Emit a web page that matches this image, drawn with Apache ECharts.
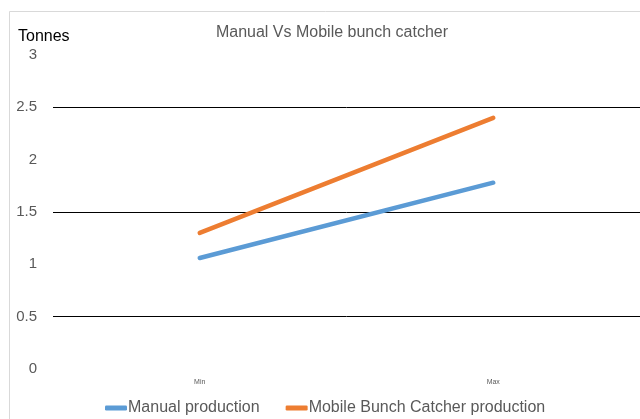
<!DOCTYPE html>
<html><head><meta charset="utf-8">
<script src="https://cdn.jsdelivr.net/npm/echarts@6/dist/echarts.min.js"></script>
<style>html,body{margin:0;padding:0;background:#fff}#c{width:640px;height:419px}</style>
</head><body><div id="c"></div>
<script>
var categories = ['Min', 'Max'];
var manual = [1.06, 1.78];
var mobile = [1.30, 2.40];
var seriesNames = ['Manual production', 'Mobile Bunch Catcher production'];

var chart = echarts.init(document.getElementById('c'), null, {renderer: 'canvas'});
var font = 'Liberation Sans';
chart.setOption({
  animation: false,
  backgroundColor: '#fff',
  title: {
    text: 'Manual Vs Mobile bunch catcher',
    left: 327, textAlign: 'center', top: 20,
    textStyle: {fontFamily: font, fontSize: 16, fontWeight: 'normal', color: '#595959'}
  },
  graphic: [
    {type: 'rect', shape: {x: 9.5, y: 11.5, width: 640, height: 420}, style: {fill: 'none', stroke: '#d9d9d9', lineWidth: 1}, silent: true},
    {type: 'text', left: 18, top: 29, style: {text: 'Tonnes', fontFamily: font, fontSize: 16, fill: '#000'}}
  ],
  legend: {
    bottom: -2, left: 100,
    itemWidth: 22, itemHeight: 5, itemGap: 26,
    icon: 'roundRect',
    textStyle: {fontFamily: font, fontSize: 16, color: '#595959', padding: [0, 0, 0, -4]},
    data: seriesNames
  },
  grid: {left: 53, right: 0, top: 55, bottom: 50, containLabel: false},
  xAxis: {
    type: 'category', data: categories, boundaryGap: true,
    axisLine: {show: false}, axisTick: {show: false},
    axisLabel: {fontFamily: font, fontSize: 7, color: '#595959', margin: 10}
  },
  yAxis: {
    type: 'value', min: 0, max: 3, interval: 0.5,
    axisLine: {show: false}, axisTick: {show: false},
    axisLabel: {fontFamily: font, fontSize: 15, color: '#595959', margin: 16},
    splitLine: {show: true, lineStyle: {color: ['transparent', '#000000'], width: 1}}
  },
  series: [
    {name: seriesNames[0], type: 'line', data: manual, symbol: 'none', lineStyle: {width: 4.5, color: '#5B9BD5', cap: 'round'}, itemStyle: {color: '#5B9BD5'}},
    {name: seriesNames[1], type: 'line', data: mobile, symbol: 'none', lineStyle: {width: 4.5, color: '#ED7D31', cap: 'round'}, itemStyle: {color: '#ED7D31'}}
  ]
});
</script></body></html>
